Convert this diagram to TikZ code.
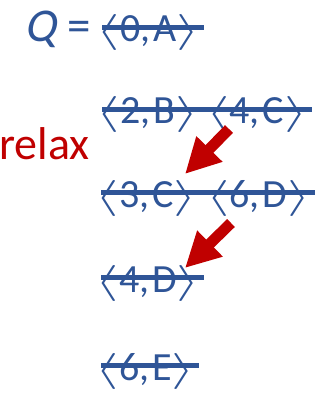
\RequirePackage{fix-cm}
\documentclass[tikz,border=0pt]{standalone}
\usepackage{graphicx}
\usepackage{fontspec}
\setmainfont{Carlito}[AutoFakeSlant=0.2]
\usetikzlibrary{arrows.meta}
\definecolor{qblue}{RGB}{47,85,151}
\definecolor{relred}{RGB}{192,0,0}
\tikzset{
  pair/.style={anchor=base west, inner sep=0pt, text=qblue, font=\fontsize{40}{40}\selectfont},
  strike/.style={draw=qblue, line width=5pt},
  relarrow/.style={draw=relred, line width=11pt, -{Triangle[length=35pt,width=34pt]}},
  lbl/.style={anchor=base west, inner sep=0pt}
}
\newcommand{\pr}[2]{\scalebox{1.5}[0.9]{$\langle$}#1,\hspace{3pt}#2\scalebox{1.5}[0.9]{$\rangle$}}
\begin{document}
\begin{tikzpicture}[x=1pt,y=-1pt]
\useasboundingbox (0,0) rectangle (334,398);
% labels
\node[lbl, text=qblue, font=\fontsize{47}{47}\selectfont] (qeq) at (24,42) {{\itshape Q}\hspace{12pt}=};
\node[lbl, text=relred, font=\fontsize{46}{46}\selectfont] (relax) at (-1,160) {relax};
% queue entries
\node[pair] (p0A) at (96.5,42) {\pr{0}{A}};
\node[pair] (p2B) at (96.5,124) {\pr{2}{B}};
\node[pair] (p4C) at (206,124) {\pr{4}{C}};
\node[pair] (p3C) at (95.5,207) {\pr{3}{C}};
\node[pair] (p6D) at (206,207) {\pr{6}{D}};
\node[pair] (p4D) at (95.5,292) {\pr{4}{D}};
\node[pair] (p6E) at (95.5,380) {\pr{6}{E}};
% strike-throughs
\draw[strike] ([shift={(5.5,-14.5)}]p0A.base west) -- ([shift={(4,-14.5)}]p0A.base east);
\draw[strike] ([shift={(5.5,-14.5)}]p2B.base west) -- ([shift={(4,-14.5)}]p4C.base east);
\draw[strike] ([shift={(5.5,-14.5)}]p3C.base west) -- ([shift={(4,-14.5)}]p6D.base east);
\draw[strike] ([shift={(5.5,-14.5)}]p4D.base west) -- ([shift={(4,-14.5)}]p4D.base east);
\draw[strike] ([shift={(5.5,-14.5)}]p6E.base west) -- ([shift={(4,-14.5)}]p6E.base east);
% relax arrows
\coordinate (a1s) at (229,129);
\coordinate (a1e) at (185,174);
\coordinate (a2s) at (231,223);
\coordinate (a2e) at (185,268);
\draw[relarrow] (a1s) -- (a1e);
\draw[relarrow] (a2s) -- (a2e);
\end{tikzpicture}
\end{document}
